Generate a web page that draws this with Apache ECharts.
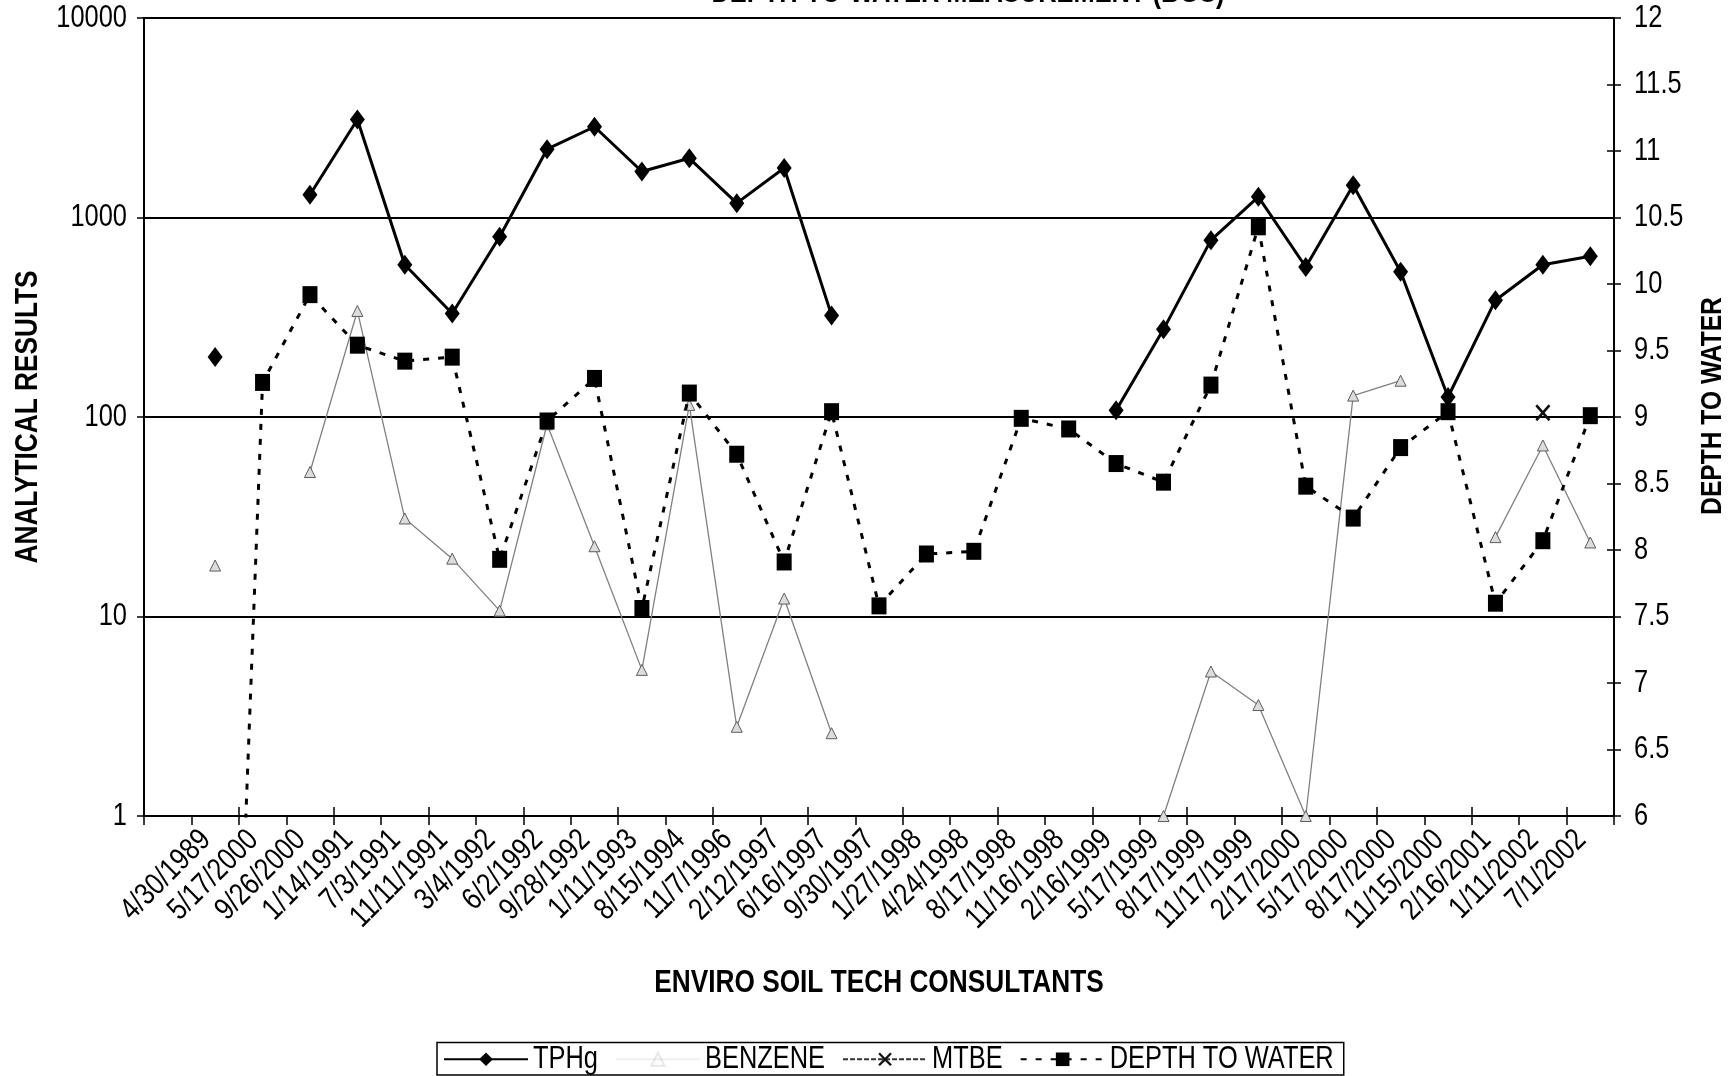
<!DOCTYPE html>
<html>
<head>
<meta charset="utf-8">
<title>Analytical results and depth to water</title>
<script src="https://cdn.jsdelivr.net/npm/echarts@6/dist/echarts.min.js"></script>
<style>
  html, body { margin: 0; padding: 0; background: #fff; }
  #chart { width: 1735px; height: 1076px; }
</style>
</head>
<body>
<div id="chart"></div>
<script>
// Sampling dates (first slot is an unlabeled spacer category)
const sampleDates = ['', '4/30/1989', '5/17/2000', '9/26/2000', '1/14/1991', '7/3/1991', '11/11/1991',
  '3/4/1992', '6/2/1992', '9/28/1992', '1/11/1993', '8/15/1994', '11/7/1996', '2/12/1997',
  '6/16/1997', '9/30/1997', '1/27/1998', '4/24/1998', '8/17/1998', '11/16/1998', '2/16/1999',
  '5/17/1999', '8/17/1999', '11/17/1999', '2/17/2000', '5/17/2000', '8/17/2000', '11/15/2000',
  '2/16/2001', '1/11/2002', '7/1/2002'];

// Analytical results (log scale, left axis)
const tphg = [null, 200, null, 1300, 3100, 580, 330, 800, 2200, 2850, 1700, 1980, 1180, 1770,
  323, null, null, null, null, null, 108, 275, 770, 1270, 565, 1450, 535, 126, 385, 580, 640];
const benzene = [null, 18, null, 53, 340, 31, 19.5, 10.7, 92, 22.5, 5.4, 115, 2.8, 12.3,
  2.6, null, null, null, null, null, null, 1, 5.3, 3.6, 1, 128, 152, null, 25, 72, 23.5];
const mtbe = [null, null, null, null, null, null, null, null, null, null, null, null, null, null,
  null, null, null, null, null, null, null, null, null, null, null, null, null, null, null, 105, null];

// Depth to water in feet (right axis)
const depthToWater = [null, 0, 9.26, 9.92, 9.54, 9.42, 9.45, 7.93, 8.97, 9.29, 7.56, 9.18, 8.72,
  7.91, 9.04, 7.58, 7.97, 7.99, 8.99, 8.91, 8.65, 8.51, 9.24, 10.43, 8.48, 8.24, 8.77, 9.04,
  7.60, 8.07, 9.01];

// ---- Condensed lettering -------------------------------------------------
// Use an installed narrow face if there is one; otherwise draw the regular face
// squeezed horizontally (family tag "CondensedSans" switches the squeeze on).
function fontAvailable(name) {
  const ctx = document.createElement('canvas').getContext('2d');
  const sample = 'ABCDEFGHIJKLMNOPQRSTUVWXYZ abcdefghijklm 0123456789/.';
  let differs = false;
  ['monospace', 'serif'].forEach(base => {
    ctx.font = '40px ' + base;
    const w0 = ctx.measureText(sample).width;
    ctx.font = '40px "' + name + '", ' + base;
    if (ctx.measureText(sample).width !== w0) differs = true;
  });
  return differs;
}
const narrowFace = ['Liberation Sans Narrow', 'Arial Narrow', 'Nimbus Sans Narrow'].find(fontAvailable);
const TAG = 'CondensedSans';
const SQUEEZE = 0.82;

if (!narrowFace) {
  const P = CanvasRenderingContext2D.prototype;
  const origFill = P.fillText, origStroke = P.strokeText, origMeasure = P.measureText;
  const squeezed = orig => function (text, x, y) {
    if (this.font.indexOf(TAG) < 0) return orig.apply(this, arguments);
    this.save();
    this.translate(x, y);
    this.scale(SQUEEZE, 1);
    orig.call(this, text, 0, 0);
    this.restore();
  };
  P.fillText = squeezed(origFill);
  P.strokeText = squeezed(origStroke);
  P.measureText = function (text) {
    const m = origMeasure.call(this, text);
    if (this.font.indexOf(TAG) < 0) return m;
    return {
      width: m.width * SQUEEZE,
      actualBoundingBoxLeft: m.actualBoundingBoxLeft * SQUEEZE,
      actualBoundingBoxRight: m.actualBoundingBoxRight * SQUEEZE,
      actualBoundingBoxAscent: m.actualBoundingBoxAscent,
      actualBoundingBoxDescent: m.actualBoundingBoxDescent,
      fontBoundingBoxAscent: m.fontBoundingBoxAscent,
      fontBoundingBoxDescent: m.fontBoundingBoxDescent
    };
  };
}
const FONT = narrowFace
  ? '"' + narrowFace + '", "Liberation Sans", Arial, sans-serif'
  : TAG + ', "Liberation Sans", Arial, Helvetica, sans-serif';

const X_MARK = 'path://M0,1.2L1.2,0L5,3.8L8.8,0L10,1.2L6.2,5L10,8.8L8.8,10L5,6.2L1.2,10L0,8.8L3.8,5Z';

const chart = echarts.init(document.getElementById('chart'), null, { renderer: 'canvas' });

chart.setOption({
  animation: false,
  backgroundColor: '#ffffff',
  textStyle: { fontFamily: FONT, color: '#000' },
  graphic: [{
    type: 'text',
    x: 968,
    y: 6,
    style: {
      text: 'DEPTH-TO-WATER MEASUREMENT (BGS)',
      font: 'bold 31px ' + FONT,
      fill: '#000',
      align: 'center',
      verticalAlign: 'bottom'
    }
  }],
  grid: {
    left: 144, right: 121, top: 18, bottom: 260,
    show: true, borderColor: '#000', borderWidth: 2,
    containLabel: false, outerBoundsMode: 'none'
  },
  legend: {
    left: 437,
    bottom: 1,
    data: [
      { name: 'TPHg' },
      { name: 'BENZENE', itemStyle: { opacity: 0.12 }, lineStyle: { opacity: 0.12 } },
      { name: 'MTBE' },
      { name: 'DEPTH TO WATER' }
    ],
    itemWidth: 84,
    itemHeight: 17,
    itemGap: 17,
    padding: [4, 10, 3, 6],
    borderColor: '#000',
    borderWidth: 1.5,
    textStyle: { fontFamily: FONT, fontSize: 31, color: '#000' }
  },
  xAxis: [{
    type: 'category',
    data: sampleDates,
    boundaryGap: true,
    axisLine: { lineStyle: { color: '#000', width: 2 } },
    axisTick: { show: true, length: 9, lineStyle: { color: '#000', width: 1.5 } },
    axisLabel: {
      interval: 0, rotate: 45, fontSize: 31, fontFamily: FONT, color: '#000',
      margin: 10, padding: [0, 13, 0, 0]
    },
    splitLine: { show: false },
    name: 'ENVIRO SOIL TECH CONSULTANTS',
    nameLocation: 'middle',
    nameGap: 154,
    nameTextStyle: { fontFamily: FONT, fontSize: 32, fontWeight: 'bold', color: '#000' }
  }, {
    type: 'category',
    data: sampleDates,
    position: 'bottom',
    boundaryGap: true,
    axisLine: { show: false },
    axisTick: { show: true, inside: true, length: 9, lineStyle: { color: '#000', width: 1.5 } },
    axisLabel: { show: false },
    splitLine: { show: false }
  }],
  yAxis: [{
    type: 'log',
    logBase: 10,
    min: 1,
    max: 10000,
    position: 'left',
    axisLine: { show: true, lineStyle: { color: '#000', width: 2 } },
    axisTick: { show: true, length: 7, lineStyle: { color: '#000', width: 1.5 } },
    axisLabel: { fontSize: 31, fontFamily: FONT, color: '#000', margin: 17, formatter: v => String(v) },
    splitLine: { show: true, lineStyle: { color: '#000', width: 2 } },
    name: 'ANALYTICAL RESULTS',
    nameLocation: 'middle',
    nameGap: 103,
    nameTextStyle: { fontFamily: FONT, fontSize: 32, fontWeight: 'bold', color: '#000' }
  }, {
    type: 'value',
    min: 6,
    max: 12,
    interval: 0.5,
    position: 'right',
    axisLine: { show: true, lineStyle: { color: '#000', width: 2 } },
    axisTick: { show: true, length: 7, lineStyle: { color: '#000', width: 1.5 } },
    axisLabel: { fontSize: 31, fontFamily: FONT, color: '#000', margin: 20 },
    splitLine: { show: false },
    name: 'DEPTH TO WATER',
    nameLocation: 'middle',
    nameRotate: 90,
    nameGap: 86,
    nameTextStyle: { fontFamily: FONT, fontSize: 30, fontWeight: 'bold', color: '#000', padding: [0, 0, 0, 22] }
  }, {
    type: 'value',
    min: 6,
    max: 12,
    interval: 0.5,
    position: 'right',
    axisLine: { show: false },
    axisTick: { show: true, inside: true, length: 7, lineStyle: { color: '#000', width: 1.5 } },
    axisLabel: { show: false },
    splitLine: { show: false }
  }],
  series: [{
    name: 'BENZENE',
    type: 'line',
    data: benzene,
    yAxisIndex: 0,
    symbol: 'triangle',
    symbolSize: 11,
    showAllSymbol: true,
    lineStyle: { color: '#808080', width: 1.3 },
    itemStyle: { color: '#dcdcdc', borderColor: '#5e5e5e', borderWidth: 1 },
    z: 2
  }, {
    name: 'MTBE',
    type: 'line',
    data: mtbe,
    yAxisIndex: 0,
    symbol: X_MARK,
    symbolSize: [15, 17],
    lineStyle: { color: '#333', width: 1, type: [5, 2] },
    itemStyle: { color: '#111' },
    z: 3
  }, {
    name: 'DEPTH TO WATER',
    type: 'line',
    data: depthToWater,
    yAxisIndex: 1,
    symbol: 'rect',
    symbolSize: [15, 17],
    showAllSymbol: true,
    clip: true,
    lineStyle: { color: '#000', width: 3, type: [6, 9] },
    itemStyle: { color: '#000' },
    z: 4
  }, {
    name: 'TPHg',
    type: 'line',
    data: tphg,
    yAxisIndex: 0,
    symbol: 'diamond',
    symbolSize: [15, 20],
    showAllSymbol: true,
    lineStyle: { color: '#000', width: 3 },
    itemStyle: { color: '#000' },
    z: 5
  }]
});
</script>
</body>
</html>
